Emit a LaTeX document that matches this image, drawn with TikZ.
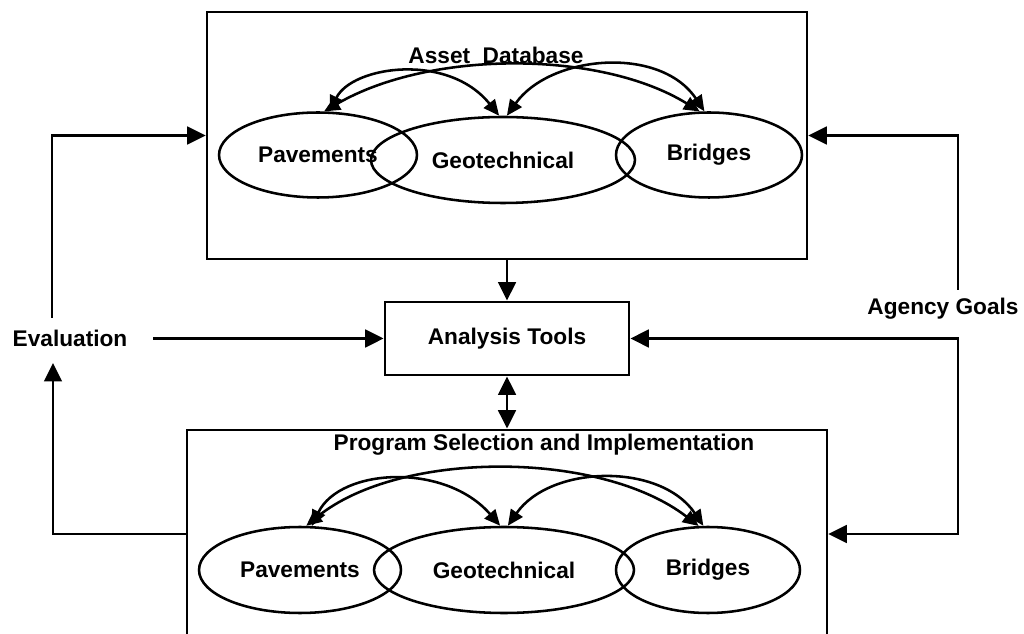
\documentclass[tikz,border=0pt]{standalone}
\usepackage{fontspec}
\setmainfont{Liberation Sans}
\usetikzlibrary{arrows.meta,shapes.geometric}
\begin{document}
\begin{tikzpicture}[x=0.02cm,y=-0.02cm,
  font=\fontsize{12.9}{15}\selectfont\bfseries,
  frame/.style={draw,line width=1.6pt,inner sep=0pt},
  oval/.style={draw,ellipse,line width=1.45pt,inner sep=0pt},
  txt/.style={inner sep=0pt},
  arr/.style={line width=1.6pt,-{Triangle[length=10.5pt,width=10pt]}},
  darr/.style={line width=1.6pt,{Triangle[length=10.5pt,width=10pt]}-{Triangle[length=10.5pt,width=10pt]}},
  link/.style={line width=1.45pt,{Triangle[length=9pt,width=8pt]}-{Triangle[length=9pt,width=8pt]}}
]
\useasboundingbox (0,0) rectangle (1024,634);
\clip (0,0) rectangle (1024,634);

% main blocks
\node[frame,minimum width=12cm,minimum height=4.94cm] (topbox) at (507,135.5) {};
\node[frame,minimum width=4.88cm,minimum height=1.46cm] (analysis) at (507,338.5) {Analysis Tools};
\node[frame,minimum width=12.8cm,minimum height=4.16cm] (bottombox) at (507,534) {};

% titles
\node[txt] (assetTitle) at (496,55) {Asset\ \ Database};
\node[txt] (progTitle) at (544,445) {Program Selection and Implementation};

% asset ellipses
\node[oval,minimum width=3.96cm,minimum height=1.70cm] (pav1) at (318,155) {Pavements};
\node[oval,minimum width=5.28cm,minimum height=1.72cm] (geo1) at (503,160) {Geotechnical};
\node[oval,minimum width=3.72cm,minimum height=1.70cm] (bri1) at (709,155) {Bridges};

% program ellipses
\node[oval,minimum width=4.04cm,minimum height=1.72cm] (pav2) at (300,570) {Pavements};
\node[oval,minimum width=5.20cm,minimum height=1.72cm] (geo2) at (504,570) {Geotechnical};
\node[oval,minimum width=3.68cm,minimum height=1.72cm] (bri2) at (708,570) {Bridges};

% links between assets (upper block)
\draw[link] (pav1.75) .. controls (352,66) and (448,52) .. (geo1.95);
\draw[link] (pav1.82) .. controls (430,50) and (600,50) .. (bri1.102);
\draw[link] (geo1.85) .. controls (550,55) and (660,45) .. (bri1.96);

% links between assets (lower block)
\draw[link] (pav2.75) .. controls (340,468) and (445,462) .. (geo2.95);
\draw[link] (pav2.82) .. controls (400,450) and (600,450) .. (bri2.102);
\draw[link] (geo2.85) .. controls (550,465) and (660,462) .. (bri2.96);

% side labels
\node[txt] (eval) at (70,338) {Evaluation};
\node[txt] (goals) at (943,309) {Agency Goals};
\coordinate (evUp) at (52,318);
\coordinate (evIn) at (153,338.5);
\coordinate (evDown) at (53,363);
\coordinate (goUp) at (958,290);
\coordinate (goRail) at (958,400);

% flows
\draw[arr] (topbox.south) -- (analysis.north);
\draw[darr] (analysis.south) -- (bottombox.north);
\draw[arr] (evUp) |- (topbox.west);
\draw[arr] (evIn) -- (analysis.west);
\draw[arr] (bottombox.west) -| (evDown);
\draw[arr] (goUp) |- (topbox.east);
\draw[darr] (analysis.east) -| (goRail) |- (bottombox.east);
\end{tikzpicture}
\end{document}
